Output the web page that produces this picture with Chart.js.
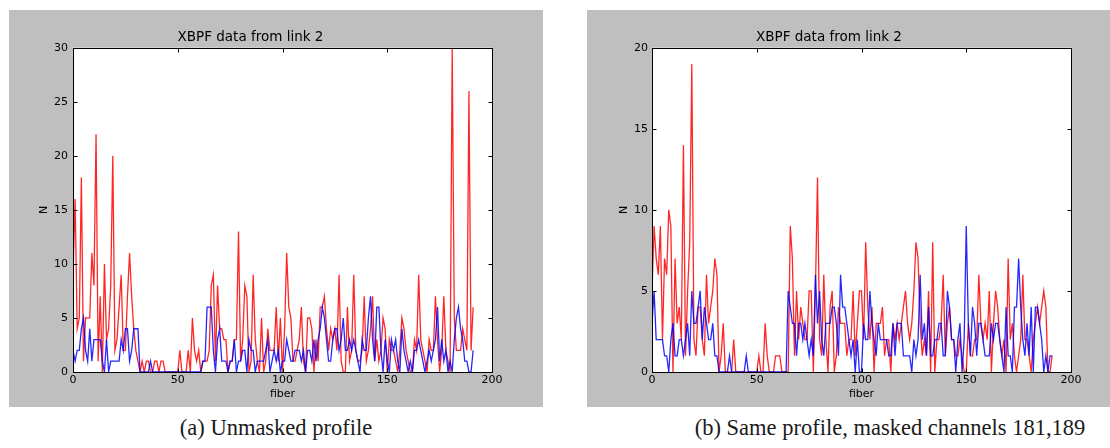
<!DOCTYPE html>
<html>
<head>
<meta charset="utf-8">
<script src="https://cdn.jsdelivr.net/npm/chart.js@4"></script>
<style>
  body { margin: 0; background: #fff; width: 1110px; height: 448px; position: relative; overflow: hidden; }
  canvas { position: absolute; }
  .cap { position: absolute; top: 415px; font-family: "Liberation Serif", serif; font-size: 22.5px; color: #1a1a1a; white-space: nowrap; transform: translateX(-50%); }
</style>
</head>
<body>
<canvas id="leftChart" width="534" height="397" style="left:9px;top:10px"></canvas>
<canvas id="rightChart" width="523" height="397" style="left:587px;top:10px"></canvas>
<div class="cap" style="left:276px">(a) Unmasked profile</div>
<div class="cap" style="left:890px">(b) Same profile, masked channels 181,189</div>
<script>
// fiber index 0..191
const fibers = Array.from({ length: 192 }, (_, i) => i);

// (a) unmasked profile
const leftRed = [
  9,16,4,5,18,1,5,5,5,11, 8,22,1,7,0,10,3,4,8,20, 2,3,6,9,2,2,7,11,7,4,
  2,1,0,1,0,1,1,0,0,1, 1,0,1,1,0,0,0,0,0,0, 0,2,0,0,0,2,0,5,2,1,
  2,0,1,1,1,2,8,9,1,8, 4,4,3,3,0,1,1,3,3,13, 1,3,8,7,0,1,9,3,1,0,
  5,0,1,4,2,2,2,6,1,5, 0,4,11,6,5,1,1,2,3,6, 1,0,5,5,4,0,3,1,6,6,
  7,4,2,4,3,4,2,9,1,0, 0,6,1,2,9,2,1,1,2,7, 1,2,4,7,1,3,1,2,5,4,
  0,3,2,2,1,0,2,5,4,2, 1,0,0,3,2,9,3,2,1,0, 3,2,2,7,3,0,2,7,2,1,
  0,30,5,2,2,2,4,3,2,26, 2,6
];
const leftBlue = [
  2,1,2,2,4,5,2,1,4,1, 3,3,3,3,1,0,3,0,1,1, 1,1,1,3,2,4,4,1,2,4,
  4,4,0,0,0,0,0,1,0,0, 0,0,0,0,0,0,0,0,0,0, 0,0,0,0,0,0,0,0,0,0,
  0,0,1,1,6,6,6,2,0,3, 4,1,1,1,0,1,1,3,0,1, 1,2,2,0,3,2,2,0,1,1,
  1,1,2,3,0,1,2,1,2,0, 1,1,3,2,1,1,2,2,2,1, 2,0,2,2,1,3,1,3,4,6,
  5,3,1,1,3,4,4,2,3,5, 2,2,3,2,3,2,1,0,3,2, 2,5,7,3,1,6,6,2,0,3,
  1,0,3,2,3,1,0,4,2,1, 0,1,0,2,2,3,2,1,0,1, 2,1,2,3,6,1,3,1,2,0,
  1,0,3,5,6,4,3,1,1,0, 0,2
];

// (b) masked channels 181,189
const rightRed = [
  5,9,7,6,9,2,7,6,10,9, 0,7,3,4,2,14,1,5,8,19, 2,1,4,4,2,1,6,3,4,5,
  7,6,0,1,3,0,0,0,0,2, 0,0,0,0,0,0,0,0,0,0, 0,1,0,0,3,1,0,0,0,1,
  1,1,0,0,0,0,9,7,1,5, 2,4,3,2,2,5,5,0,5,12, 2,1,6,2,0,4,5,0,1,4,
  3,3,3,1,2,2,5,1,3,5, 5,2,8,4,2,4,0,3,3,3, 4,1,2,2,0,3,2,3,2,3,
  4,5,3,2,3,5,8,7,3,1, 2,1,5,0,8,0,2,2,3,6, 1,3,4,2,2,1,1,2,1,0,
  0,3,1,1,2,2,6,3,2,3, 2,5,0,3,5,4,2,1,2,0, 7,2,3,1,0,1,2,6,2,2,
  1,0,2,3,4,3,4,5,4,0, 0,1
];
const rightBlue = [
  3,5,2,2,2,2,1,1,0,2, 3,1,1,2,2,1,2,3,1,5, 3,3,4,5,2,4,3,2,2,3,
  1,1,0,0,0,0,0,1,0,0, 0,0,0,0,0,1,0,0,0,0, 0,0,0,0,0,0,0,0,0,0,
  0,0,0,0,0,5,4,3,3,1, 3,3,2,3,2,1,2,1,6,3, 5,2,1,3,3,3,4,4,3,1,
  6,4,4,3,2,1,2,0,2,0, 0,3,2,2,5,3,2,1,3,2, 2,2,2,1,1,3,1,3,3,3,
  1,1,1,1,0,2,1,2,6,2, 3,1,4,1,1,2,2,3,3,1, 1,5,4,2,2,0,2,3,0,2,
  9,3,1,4,3,1,3,3,2,1, 1,1,3,2,3,3,2,1,0,4, 1,1,0,4,4,7,4,2,1,3,
  1,4,0,4,4,3,2,0,1,0, 1,1
];

const xTicks = [0, 50, 100, 150, 200];

const bgPlugin = {
  id: 'bg',
  beforeDraw(chart) {
    const ctx = chart.ctx;
    ctx.save();
    ctx.fillStyle = '#bfbfbf';
    ctx.fillRect(0, 0, chart.width, chart.height);
    const a = chart.chartArea;
    ctx.fillStyle = '#ffffff';
    ctx.fillRect(a.left, a.top, a.right - a.left, a.bottom - a.top);
    ctx.restore();
  }
};

// matplotlib-like frame with inward ticks
const framePlugin = {
  id: 'frame',
  afterDraw(chart) {
    const ctx = chart.ctx;
    const a = chart.chartArea;
    const xs = chart.scales.x, ys = chart.scales.y;
    ctx.save();
    ctx.strokeStyle = '#000';
    ctx.lineWidth = 1;
    const L = Math.round(a.left) + 0.5, R = Math.round(a.right) + 0.5;
    const T = Math.round(a.top) + 0.5, B = Math.round(a.bottom) + 0.5;
    ctx.strokeRect(L, T, R - L, B - T);
    ctx.beginPath();
    xs.ticks.forEach(t => {
      const px = Math.round(xs.getPixelForValue(t.value)) + 0.5;
      ctx.moveTo(px, B); ctx.lineTo(px, B - 4);
      ctx.moveTo(px, T); ctx.lineTo(px, T + 4);
    });
    ys.ticks.forEach(t => {
      const py = Math.round(ys.getPixelForValue(t.value)) + 0.5;
      ctx.moveTo(L, py); ctx.lineTo(L + 4, py);
      ctx.moveTo(R, py); ctx.lineTo(R - 4, py);
    });
    ctx.stroke();
    ctx.restore();
  }
};

function makeChart(id, red, blue, yMax, yWidth, yTitlePad, yTickPad, padRight) {
  const ctx = document.getElementById(id).getContext('2d');
  return new Chart(ctx, {
    type: 'line',
    data: {
      datasets: [{
        data: red.map((v, i) => ({ x: fibers[i], y: v })),
        borderColor: 'rgba(255, 0, 0, 0.85)',
        borderWidth: 1.3,
        pointRadius: 0,
        tension: 0,
        order: 2
      }, {
        data: blue.map((v, i) => ({ x: fibers[i], y: v })),
        borderColor: 'rgba(0, 0, 255, 0.85)',
        borderWidth: 1.3,
        pointRadius: 0,
        tension: 0,
        order: 1
      }]
    },
    options: {
      responsive: false,
      animation: false,
      devicePixelRatio: 1,
      layout: { padding: { left: 0, right: padRight, top: 0, bottom: 0 } },
      scales: {
        x: {
          type: 'linear',
          min: 0,
          max: 200,
          afterBuildTicks: s => { s.ticks = xTicks.map(v => ({ value: v })); },
          afterFit: s => { s.height = 35; },
          grid: { display: false, drawTicks: false },
          border: { display: false },
          ticks: { padding: 2, color: '#000', font: { family: 'DejaVu Sans', size: 11 }, maxRotation: 0 },
          title: { display: true, text: 'fiber', color: '#000', font: { family: 'DejaVu Sans', size: 11 }, padding: { top: 0, bottom: 6.5 } }
        },
        y: {
          min: 0,
          max: yMax,
          afterFit: s => { s.width = yWidth; },
          grid: { display: false, drawTicks: false },
          border: { display: false },
          ticks: { stepSize: 5, padding: yTickPad, color: '#000', font: { family: 'DejaVu Sans', size: 11 } },
          title: { display: true, text: 'N', color: '#000', font: { family: 'DejaVu Sans', size: 11 }, padding: { top: yTitlePad, bottom: 0 } }
        }
      },
      plugins: {
        legend: { display: false },
        tooltip: { enabled: false },
        title: {
          display: true,
          text: 'XBPF data from link 2',
          color: '#000',
          font: { family: 'DejaVu Sans', size: 13.5, weight: 'normal' },
          padding: { top: 19.5, bottom: 2 }
        }
      }
    },
    plugins: [bgPlugin, framePlugin]
  });
}

makeChart('leftChart', leftRed, leftBlue, 30, 64, 29, 5, 51);
makeChart('rightChart', rightRed, rightBlue, 20, 65, 31, 4, 39);
</script>
</body>
</html>
